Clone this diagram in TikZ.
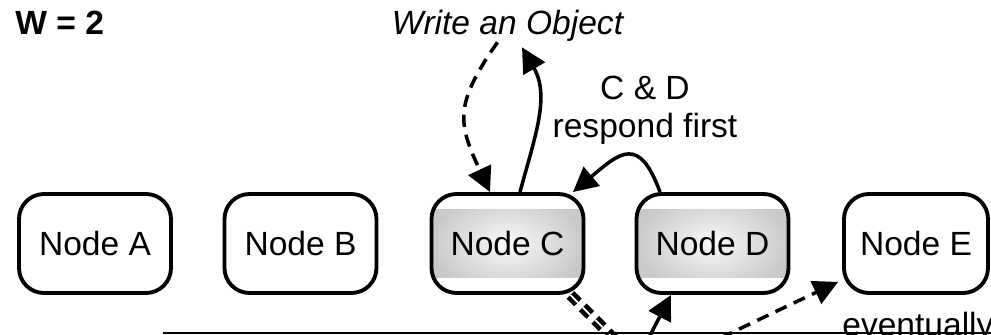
\documentclass[tikz,border=0pt]{standalone}
\usepackage{fontspec}
\setmainfont{Liberation Sans}
\usetikzlibrary{arrows.meta}

\begin{document}
\begin{tikzpicture}[>={Triangle[length=14pt,width=14pt]},
    caja/.style={draw, line width=2.2pt, rounded corners=0.5cm, minimum width=3.04cm, minimum height=1.98cm, font=\fontsize{19.1}{23}\selectfont},
    caja gris/.style={caja, path picture={\shade[sharp corners, inner color=gray!4, outer color=gray!42] ([yshift=0.68cm]path picture bounding box.west) rectangle ([yshift=-0.68cm]path picture bounding box.east);}},
    flecha/.style={line width=2pt, ->},
    flecha punteada/.style={flecha, dash pattern=on 7pt off 4.5pt},
    texto/.style={inner sep=0pt, font=\fontsize{19.1}{21.6}\selectfont}]
        \useasboundingbox (0,0) rectangle (19.82,6.70);
        \clip (0,0) rectangle (19.82,6.70);

        % Nodos
        \node[caja] (nodoA) at (1.90,1.83) {Node A};
        \node[caja] (nodoB) at (6.01,1.83) {Node B};
        \node[caja gris] (nodoC) at (10.15,1.83) {Node C};
        \node[caja gris] (nodoD) at (14.25,1.83) {Node D};
        \node[caja, minimum width=2.88cm] (nodoE) at (18.32,1.83) {Node E};

        % Textos
        \node[texto, font=\fontsize{19.1}{23}\selectfont\bfseries, anchor=base west] (peso) at (0.30,6.00) {W = 2};
        \node[texto, font=\fontsize{19.1}{23}\selectfont\itshape, anchor=base] (escribir) at (10.15,6.00) {Write an Object};
        \node[texto, align=center] (respuesta) at (12.90,4.50) {C \& D\\respond first};
        \node[texto, anchor=base west] (eventual) at (16.84,-0.04) {eventually};

        % Escritura y respuestas
        \draw[flecha punteada] ([xshift=-0.2cm]escribir.south) to[out=235, in=115, looseness=1.3] ([xshift=-0.35cm]nodoC.north);
        \draw[flecha] ([xshift=0.25cm]nodoC.north) to[out=75, in=-60] ([xshift=0.29cm, yshift=-0.1cm]escribir.south);
        \draw[flecha] ([xshift=-1.05cm]nodoD.north) to[out=110, in=40, looseness=1.8] ([xshift=-0.25cm]nodoC.north east);

        % Replicas hacia abajo (cortadas)
        \coordinate (bajoC) at (12.9,-0.7);
        \coordinate (bajoD) at (12.48,-1.01);
        \coordinate (bajoE) at (14.05,-0.23);
        \draw[double, double distance=1pt, line width=2.6pt, dash pattern=on 6pt off 4pt] ([xshift=-0.3cm]nodoC.south east) -- (bajoC);
        \draw[flecha] (bajoD) -- ([xshift=-0.83cm]nodoD.south);
        \draw[flecha punteada] (bajoE) -- ([xshift=-0.08cm, yshift=0.26cm]nodoE.south west);

        % Linea inferior
        \draw[line width=1.2pt] (3.26,0.04) -- (19.82,0.04);
\end{tikzpicture}
\end{document}
